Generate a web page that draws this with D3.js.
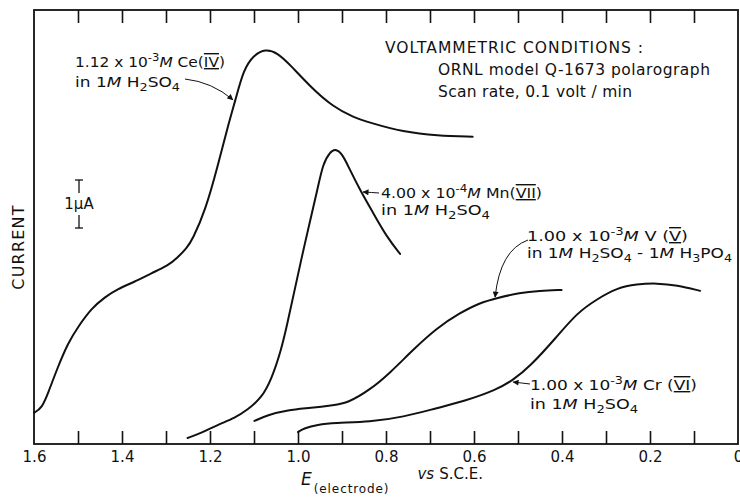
<!DOCTYPE html>
<html>
<head>
<meta charset="utf-8">
<script src="https://cdn.jsdelivr.net/npm/d3@7"></script>
<style>
  html, body { margin: 0; padding: 0; background: #fff; }
  svg { display: block; font-family: "DejaVu Sans", sans-serif; }
  .bar { text-decoration: underline overline; }
</style>
</head>
<body>
<div id="chart"></div>
<script>
// Readings, E in volts vs S.C.E., current in microamps above the frame bottom
const ceE = [1.600, 1.582, 1.568, 1.546, 1.523, 1.500, 1.469, 1.439, 1.410, 1.371, 1.333, 1.296, 1.274, 1.253, 1.240, 1.210, 1.183, 1.160, 1.142, 1.124, 1.101, 1.074, 1.047, 1.018, 0.972, 0.920, 0.875, 0.836, 0.761, 0.684, 0.603];
const ceI = [0.65, 0.75, 1.06, 1.60, 2.10, 2.44, 2.83, 3.06, 3.23, 3.38, 3.56, 3.71, 3.88, 4.08, 4.25, 4.88, 5.77, 6.60, 7.17, 7.79, 8.10, 8.23, 8.15, 7.90, 7.44, 7.02, 6.81, 6.69, 6.50, 6.42, 6.40];

const mnE = [1.251, 1.219, 1.183, 1.144, 1.115, 1.083, 1.061, 1.038, 1.024, 1.009, 0.993, 0.972, 0.956, 0.943, 0.927, 0.916, 0.900, 0.882, 0.859, 0.829, 0.798, 0.768];
const mnI = [0.125, 0.23, 0.40, 0.54, 0.71, 0.96, 1.33, 1.96, 2.52, 3.15, 3.83, 4.67, 5.29, 5.85, 6.08, 6.15, 6.06, 5.71, 5.29, 4.81, 4.31, 3.96];

const vE = [1.099, 1.070, 1.024, 0.970, 0.918, 0.888, 0.836, 0.791, 0.739, 0.684, 0.632, 0.587, 0.548, 0.496, 0.451, 0.401];
const vI = [0.48, 0.60, 0.71, 0.75, 0.81, 0.85, 1.13, 1.48, 1.96, 2.42, 2.73, 2.94, 3.04, 3.15, 3.19, 3.21];

const crE = [1.000, 0.986, 0.956, 0.918, 0.836, 0.761, 0.684, 0.626, 0.548, 0.512, 0.474, 0.412, 0.366, 0.320, 0.275, 0.230, 0.184, 0.139, 0.086];
const crI = [0.25, 0.33, 0.40, 0.44, 0.46, 0.56, 0.75, 0.88, 1.13, 1.33, 1.60, 2.23, 2.73, 3.02, 3.25, 3.33, 3.35, 3.31, 3.19];

// x axis
const minorTicks = [1.5, 1.4, 1.3, 1.2, 1.1, 1.0, 0.9, 0.8, 0.7, 0.6, 0.5, 0.4, 0.3, 0.2, 0.1];
const tickLabels = [1.6, 1.4, 1.2, 1.0, 0.8, 0.6, 0.4, 0.2, 0];

// where each label's arrow touches its curve (E, I)
const arrowE = [1.148, 0.852, 0.552, 0.511];
const arrowI = [7.17, 5.25, 3.06, 1.29];

const scaleBarI = 1; // 1 µA bar

const width = 740, height = 499;
const margin = { top: 10, right: 2, bottom: 55, left: 34 };

const svg = d3.select("#chart").append("svg")
    .attr("width", width)
    .attr("height", height);

const x = d3.scaleLinear().domain([1.6, 0]).range([margin.left, width - margin.right]);
const y = d3.scaleLinear().domain([0, 9.04]).range([height - margin.bottom, margin.top]);

const defs = svg.append("defs");
defs.append("marker")
    .attr("id", "head")
    .attr("viewBox", "0 0 10 10")
    .attr("refX", 9).attr("refY", 5)
    .attr("markerWidth", 7).attr("markerHeight", 6)
    .attr("markerUnits", "userSpaceOnUse")
    .attr("orient", "auto")
    .append("path").attr("d", "M0,0 L10,5 L0,10 Z").attr("fill", "#111");

// frame
svg.append("rect")
    .attr("x", x(1.6)).attr("y", y(9.04))
    .attr("width", x(0) - x(1.6)).attr("height", y(0) - y(9.04))
    .attr("fill", "none").attr("stroke", "#111").attr("stroke-width", 1.8);

const axisFont = g => g.selectAll("text")
    .attr("font-family", "DejaVu Sans, sans-serif")
    .attr("font-size", 15)
    .attr("fill", "#111");

// inward ticks, bottom and top
svg.append("g")
    .attr("transform", `translate(0,${y(0)})`)
    .call(d3.axisBottom(x).tickValues(minorTicks).tickSizeInner(-13).tickSizeOuter(0).tickFormat(""))
    .call(g => g.select(".domain").remove())
    .call(g => g.selectAll("line").attr("stroke", "#111").attr("stroke-width", 1.6));

svg.append("g")
    .attr("transform", `translate(0,${y(9.04)})`)
    .call(d3.axisTop(x).tickValues(minorTicks).tickSizeInner(-13).tickSizeOuter(0).tickFormat(""))
    .call(g => g.select(".domain").remove())
    .call(g => g.selectAll("line").attr("stroke", "#111").attr("stroke-width", 1.6));

// tick labels
svg.append("g")
    .attr("transform", `translate(0,${y(0)})`)
    .call(d3.axisBottom(x).tickValues(tickLabels).tickSize(0).tickPadding(7)
        .tickFormat(d => d === 0 ? "0" : d3.format(".1f")(d)))
    .call(g => g.select(".domain").remove())
    .call(axisFont);

// axis titles
const xt = svg.append("text")
    .attr("x", 301).attr("y", 485)
    .attr("font-size", 17).attr("fill", "#111");
xt.append("tspan").attr("font-style", "italic").text("E");
xt.append("tspan").attr("dy", 8).attr("dx", 2).attr("font-size", 12).attr("letter-spacing", 0.9).text("(electrode)");
xt.append("tspan").attr("dy", -14).attr("dx", 28).attr("font-style", "italic").attr("font-size", 15).text("vs");
xt.append("tspan").attr("dx", 5).attr("font-size", 15).text("S.C.E.");

svg.append("text")
    .attr("transform", `translate(24,247) rotate(-90)`)
    .attr("text-anchor", "middle")
    .attr("font-size", 16).attr("letter-spacing", 1.2)
    .attr("fill", "#111")
    .text("CURRENT");

// 1 µA scale bar
const barX = 79, barTop = 180;
const barBot = barTop + (y(0) - y(scaleBarI));
const sb = svg.append("g").attr("stroke", "#111").attr("stroke-width", 1.3);
sb.append("line").attr("x1", barX - 4).attr("x2", barX + 4).attr("y1", barTop).attr("y2", barTop);
sb.append("line").attr("x1", barX).attr("x2", barX).attr("y1", barTop).attr("y2", barTop + 13);
sb.append("line").attr("x1", barX).attr("x2", barX).attr("y1", barBot - 13).attr("y2", barBot);
sb.append("line").attr("x1", barX - 4).attr("x2", barX + 4).attr("y1", barBot).attr("y2", barBot);
svg.append("text").attr("x", barX).attr("y", (barTop + barBot) / 2 + 5)
    .attr("text-anchor", "middle").attr("font-size", 15).attr("fill", "#111")
    .text("1\u00b5A");

// curves
const line = d3.line()
    .x(d => x(d[0]))
    .y(d => y(d[1]))
    .curve(d3.curveBasis);

const series = [[ceE, ceI], [mnE, mnI], [vE, vI], [crE, crI]];
svg.append("g")
    .selectAll("path")
    .data(series)
    .join("path")
    .attr("d", s => line(d3.zip(s[0], s[1])))
    .attr("fill", "none")
    .attr("stroke", "#111")
    .attr("stroke-width", 2)
    .attr("stroke-linecap", "round");

// rich text helper: segments of {t, sup, sub, it, bar}
function richText(g, xPos, yPos, segs, len) {
    const t = g.append("text").attr("x", xPos).attr("y", yPos)
        .attr("font-size", 14).attr("fill", "#111");
    let shift = 0;
    segs.forEach(s => {
        const sp = t.append("tspan").text(s.t);
        let want = s.sup ? -6 : s.sub ? 4 : 0;
        if (want !== shift) { sp.attr("dy", want - shift); shift = want; }
        if (s.sup || s.sub) sp.attr("font-size", 10.5);
        if (s.it) sp.attr("font-style", "italic");
        if (s.bar) sp.attr("class", "bar");
    });
    if (len) t.attr("textLength", len).attr("lengthAdjust", "spacingAndGlyphs");
    return t;
}

const ann = svg.append("g");

// Ce(IV)
richText(ann, 75, 67, [{ t: "1.12 x 10" }, { t: "-3", sup: true }, { t: "M", it: true }, { t: " Ce(" }, { t: "IV", bar: true }, { t: ")" }], 150);
richText(ann, 75, 87, [{ t: "in 1" }, { t: "M", it: true }, { t: " H" }, { t: "2", sub: true }, { t: "SO" }, { t: "4", sub: true }], 105);
// Mn(VII)
richText(ann, 381, 198, [{ t: "4.00 x 10" }, { t: "-4", sup: true }, { t: "M", it: true }, { t: " Mn(" }, { t: "VII", bar: true }, { t: ")" }], 161);
richText(ann, 381, 215, [{ t: "in 1" }, { t: "M", it: true }, { t: " H" }, { t: "2", sub: true }, { t: "SO" }, { t: "4", sub: true }], 109);
// V(V)
richText(ann, 527, 241, [{ t: "1.00 x 10" }, { t: "-3", sup: true }, { t: "M", it: true }, { t: "  V (" }, { t: "V", bar: true }, { t: ")" }], 161);
richText(ann, 527, 258, [{ t: "in 1" }, { t: "M", it: true }, { t: " H" }, { t: "2", sub: true }, { t: "SO" }, { t: "4", sub: true }, { t: " - 1" }, { t: "M", it: true }, { t: " H" }, { t: "3", sub: true }, { t: "PO" }, { t: "4", sub: true }], 205);
// Cr(VI)
richText(ann, 530, 390, [{ t: "1.00 x 10" }, { t: "-3", sup: true }, { t: "M", it: true }, { t: "  Cr (" }, { t: "VI", bar: true }, { t: ")" }], 167);
richText(ann, 530, 409, [{ t: "in 1" }, { t: "M", it: true }, { t: " H" }, { t: "2", sub: true }, { t: "SO" }, { t: "4", sub: true }], 108);

// arrows from labels to curves
const tails = [[185, 79], [379, 193], [528, 240], [530, 384]];
const bends = [[212, 82], [372, 192.5], [500, 250], [522, 383]];
ann.selectAll("path.arrow")
    .data(arrowE.map((e, i) => [tails[i], bends[i], [x(e), y(arrowI[i])]]))
    .join("path")
    .attr("class", "arrow")
    .attr("d", d => `M${d[0][0]},${d[0][1]} Q${d[1][0]},${d[1][1]} ${d[2][0]},${d[2][1]}`)
    .attr("fill", "none")
    .attr("stroke", "#111")
    .attr("stroke-width", 1)
    .attr("marker-end", "url(#head)");

// conditions box text
const cond = svg.append("g").attr("font-size", 15.5).attr("fill", "#111");
cond.append("text").attr("x", 385).attr("y", 53).attr("textLength", 258).text("VOLTAMMETRIC CONDITIONS :");
cond.append("text").attr("x", 438).attr("y", 75).attr("textLength", 272).text("ORNL model Q-1673 polarograph");
cond.append("text").attr("x", 438).attr("y", 97).attr("textLength", 194).text("Scan rate, 0.1 volt / min");
</script>
</body>
</html>
